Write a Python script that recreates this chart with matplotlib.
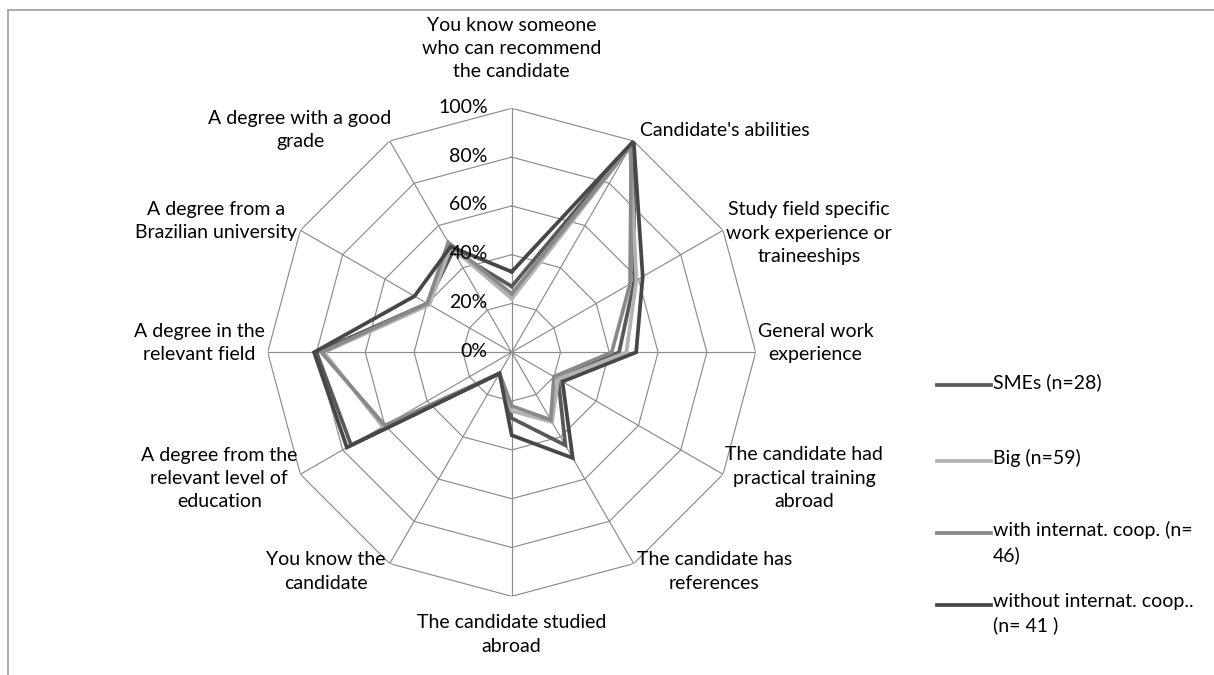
import numpy as np
import matplotlib
matplotlib.use("Agg")
import matplotlib.pyplot as plt
from matplotlib.lines import Line2D

plt.rcParams['font.family'] = ['Lato', 'DejaVu Sans']

categories = [
    "You know someone\nwho can recommend\nthe candidate",
    "Candidate's abilities",
    "Study field specific\nwork experience or\ntraineeships",
    "General work\nexperience",
    "The candidate had\npractical training\nabroad",
    "The candidate has\nreferences",
    "The candidate studied\nabroad",
    "You know the\ncandidate",
    "A degree from the\nrelevant level of\neducation",
    "A degree in the\nrelevant field",
    "A degree from a\nBrazilian university",
    "A degree with a good\ngrade",
]

series_names = [
    "SMEs (n=28)",
    "Big (n=59)",
    "with internat. coop. (n=\n46)",
    "without internat. coop..\n(n= 41 )",
]
smes = [27, 100, 58, 44, 22, 44, 27, 10, 76, 80, 40, 48]
big = [22, 97, 59, 47, 22, 33, 24, 10, 61, 77, 39, 50]
with_coop = [24, 98, 56, 41, 20, 32, 22, 10, 60, 78, 40, 52]
without_coop = [33, 100, 62, 51, 24, 50, 34, 10, 78, 81, 46, 50]
series_values = [smes, big, with_coop, without_coop]
series_colors = ["#595959", "#b3b3b3", "#898989", "#474747"]

ticks = [0, 20, 40, 60, 80, 100]
tick_labels = ["0%", "20%", "40%", "60%", "80%", "100%"]

W, H = 1214, 675
fig = plt.figure(figsize=(W / 100, H / 100), dpi=100)

cx, cy, R = 511.7, 352.3, 244.0
ax = fig.add_axes([(cx - R) / W, 1 - (cy + R) / H, 2 * R / W, 2 * R / H],
                  projection="polar")
ax.set_theta_offset(np.pi / 2)
ax.set_theta_direction(-1)
ax.set_ylim(0, 100)
ax.set_axis_off()

n = len(categories)
angles = np.arange(n) * 2 * np.pi / n
closed = np.append(angles, angles[0])

grid_color = "#8c8c8c"
# polygon rings
for t in ticks[1:]:
    ax.plot(closed, [t] * (n + 1), color=grid_color, lw=0.85, zorder=1)
# spokes
for a in angles:
    ax.plot([a, a], [0, 100], color=grid_color, lw=0.85, zorder=1)

# series
for vals, col in zip(series_values, series_colors):
    v = np.append(vals, vals[0])
    ax.plot(closed, v, color=col, lw=2.7, solid_joinstyle="miter", zorder=3)

FS = 14
LS = 1.45

# radial tick labels along the top spoke
for t, lab in zip(ticks, tick_labels):
    ax.annotate(lab, xy=(0, t), xytext=(-24, 1), textcoords="offset pixels",
                ha="right", va="center", fontsize=FS, color="#000000", zorder=4)

# category labels: (dx, dy) pixel offsets from the outer vertex, alignment
label_layout = [
    ((0, 28), "center", "bottom"),
    ((6, 10), "left", "center"),
    ((3, -3), "left", "center"),
    ((2, 9), "left", "center"),
    ((2, -4), "left", "center"),
    ((3, -8), "left", "center"),
    ((0, -18), "center", "top"),
    ((-4, -8), "right", "center"),
    ((-3, -4), "right", "center"),
    ((-3, 9), "right", "center"),
    ((-3, 9), "right", "center"),
    ((2, 11), "right", "center"),
]
for a, lab, (off, ha, va) in zip(angles, categories, label_layout):
    ax.annotate(lab, xy=(a, 100), xytext=off, textcoords="offset pixels",
                ha=ha, va=va, multialignment="center", fontsize=FS,
                linespacing=LS, color="#000000", annotation_clip=False)

# legend
leg_y = [385, 461, 533, 605]
for name, col, y in zip(series_names, series_colors, leg_y):
    fig.add_artist(Line2D([937 / W, 991 / W], [1 - y / H, 1 - y / H],
                          color=col, lw=2.7, transform=fig.transFigure))
    fig.text(993 / W, 1 - (y - 12) / H, name, ha="left", va="top",
             fontsize=FS, linespacing=LS)

# outer frame (top and left edges)
frame_col = "#a6a6a6"
fig.add_artist(Line2D([8 / W, 1], [1 - 9.5 / H, 1 - 9.5 / H], color=frame_col,
                      lw=1.3, transform=fig.transFigure))
fig.add_artist(Line2D([8 / W, 8 / W], [1 - 9.5 / H, 0], color=frame_col,
                      lw=1.3, transform=fig.transFigure))

fig.savefig("out.png", dpi=100, facecolor="white")
